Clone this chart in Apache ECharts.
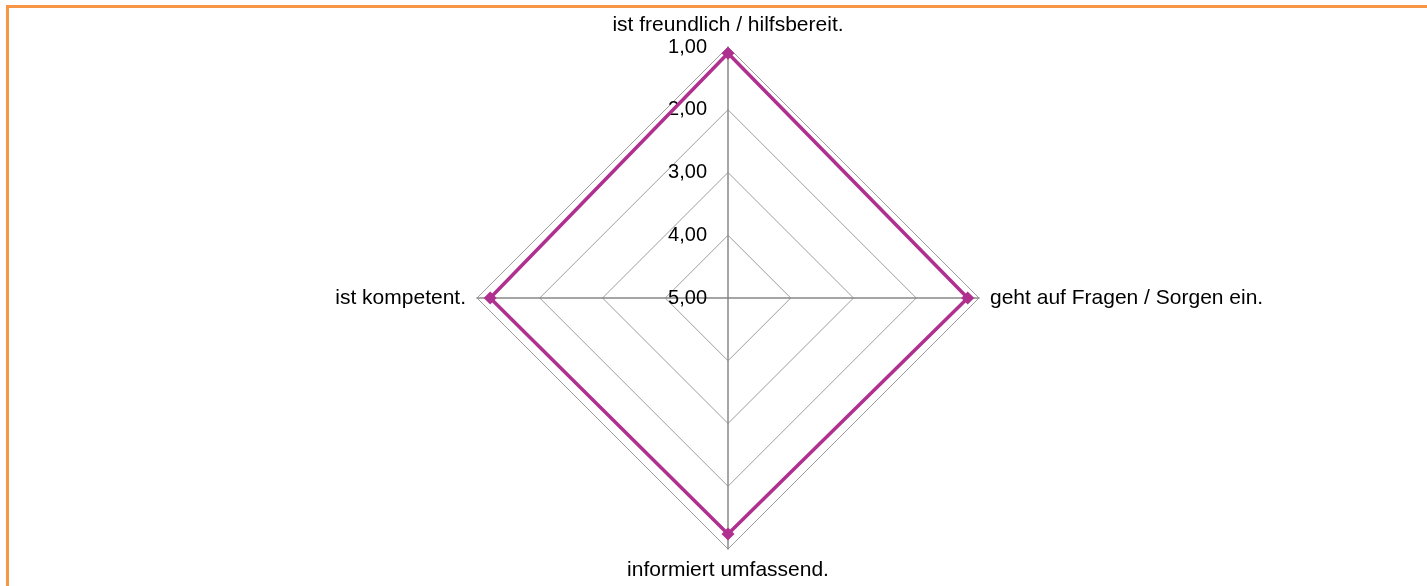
<!DOCTYPE html>
<html>
<head>
<meta charset="utf-8">
<script src="https://cdn.jsdelivr.net/npm/echarts@6/dist/echarts.min.js"></script>
<style>
  html, body { margin: 0; padding: 0; background: #fff; }
  #frame { position: absolute; left: 6px; top: 5px; width: 1421px; height: 581px;
           border-left: 3px solid #F79646; border-top: 3px solid #F79646; box-sizing: border-box; }
  #main { position: absolute; left: 0; top: 0; width: 1427px; height: 586px; }
</style>
</head>
<body>
<div id="frame"></div>
<div id="main"></div>
<script>
// categories in clockwise order, starting at the top
var categories = [
  'ist freundlich / hilfsbereit.',
  'geht auf Fragen / Sorgen ein.',
  'informiert umfassend.',
  'ist kompetent.'
];
// mean ratings (1 = best, 5 = worst)
var values = [1.10, 1.18, 1.24, 1.21];
var scaleMin = 1;
var scaleMax = 5;

// echarts runs counterclockwise, the scale is reversed (1 outside, 5 in the middle)
var order = [0, 3, 2, 1];
var flip = function (v) { return scaleMax + scaleMin - v; };

var indicators = order.map(function (i, k) {
  var ind = { name: categories[i], min: scaleMin, max: scaleMax };
  if (k === 0) ind.axisLabel = { show: true };
  return ind;
});

var myChart = echarts.init(document.getElementById('main'));
var font = "'Liberation Sans', Arial, sans-serif";
var option = {
  animation: false,
  radar: {
    center: [728, 298],
    radius: 251,
    shape: 'polygon',
    splitNumber: 4,
    indicator: indicators,
    axisName: { color: '#000', fontSize: 21, fontFamily: font },
    nameGap: 11,
    axisLine: { lineStyle: { color: '#888888', width: 1.5 } },
    splitLine: { lineStyle: { color: '#9C9C9C', width: 1 } },
    splitArea: { show: false },
    axisTick: { show: false },
    axisLabel: {
      show: false,
      margin: 21,
      color: '#000',
      fontSize: 20,
      fontFamily: font,
      padding: [5, 0, 0, 0],
      formatter: function (v) { return flip(v).toFixed(2).replace('.', ','); }
    }
  },
  series: [{
    type: 'radar',
    symbol: 'diamond',
    symbolSize: 13,
    lineStyle: { color: '#B0308F', width: 3.5 },
    itemStyle: { color: '#B0308F' },
    data: [{ value: order.map(function (i) { return flip(values[i]); }) }]
  }]
};
myChart.setOption(option);
</script>
</body>
</html>
